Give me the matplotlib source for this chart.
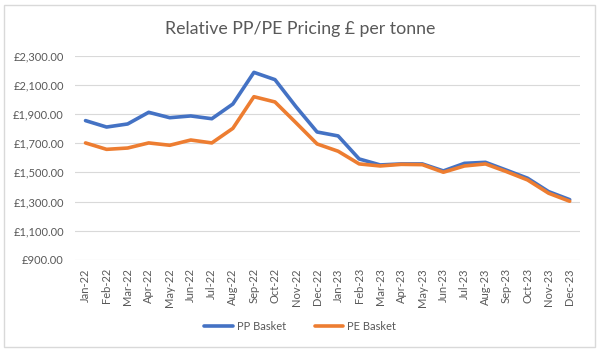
import matplotlib.pyplot as plt
from matplotlib.patches import Rectangle
from matplotlib.ticker import FuncFormatter

plt.rcParams['font.family'] = ['Lato', 'DejaVu Sans']

months = ['Jan-22', 'Feb-22', 'Mar-22', 'Apr-22', 'May-22', 'Jun-22', 'Jul-22', 'Aug-22',
          'Sep-22', 'Oct-22', 'Nov-22', 'Dec-22', 'Jan-23', 'Feb-23', 'Mar-23', 'Apr-23',
          'May-23', 'Jun-23', 'Jul-23', 'Aug-23', 'Sep-23', 'Oct-23', 'Nov-23', 'Dec-23']

pp_basket = [1855, 1811, 1832, 1912, 1875, 1887, 1868, 1969, 2186, 2136, 1950, 1777,
             1750, 1592, 1551, 1558, 1558, 1510, 1562, 1569, 1515, 1460, 1368, 1313]
pe_basket = [1702, 1658, 1667, 1702, 1686, 1722, 1702, 1802, 2019, 1983, 1840, 1695,
             1645, 1558, 1544, 1555, 1553, 1501, 1544, 1558, 1505, 1448, 1357, 1302]

grey = '#595959'

fig = plt.figure(figsize=(6, 3.55), dpi=100)
ax = fig.add_axes([0.125, 0.268, 0.842, 0.575])

x = range(len(months))
ax.plot(x, pp_basket, color='#4472C4', lw=2.6, label='PP Basket', solid_capstyle='round')
ax.plot(x, pe_basket, color='#ED7D31', lw=2.6, label='PE Basket', solid_capstyle='round')

ax.set_xlim(-0.5, len(months) - 0.5)
ax.set_ylim(900, 2300)
ax.set_yticks(range(900, 2301, 200))
ax.yaxis.set_major_formatter(FuncFormatter(lambda v, p: '£{:,.2f}'.format(v)))
ax.set_xticks(list(x))
ax.set_xticklabels(months, rotation=90)
ax.tick_params(axis='both', length=0, labelsize=8, colors=grey, pad=6)
ax.tick_params(axis='y', pad=8)

ax.grid(axis='y', color='#D9D9D9', lw=0.8)
ax.set_axisbelow(True)
for s in ax.spines.values():
    s.set_visible(False)

fig.text(0.5, 0.918, 'Relative PP/PE Pricing £ per tonne', ha='center', va='center',
         fontsize=12.8, color=grey)

fig.legend(loc='center', bbox_to_anchor=(0.5, 0.08), ncol=2, frameon=False,
           fontsize=8, handlelength=2.6, columnspacing=2.6, labelcolor=grey,
           handletextpad=0.3)

fig.patches.append(Rectangle((0.006, 0.022), 0.986, 0.965, transform=fig.transFigure,
                             fill=False, edgecolor='#D9D9D9', lw=1))

fig.savefig('out.png', dpi=100)
